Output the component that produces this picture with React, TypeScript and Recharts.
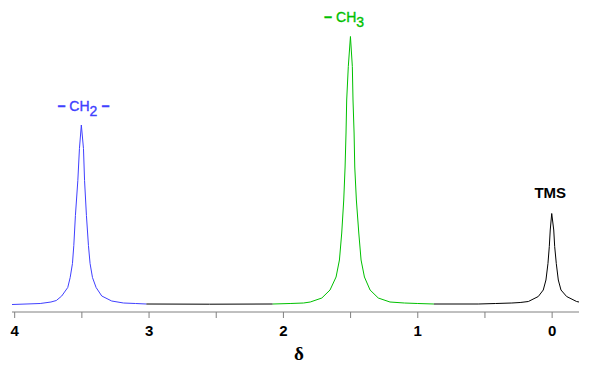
import { LineChart, Line, XAxis, YAxis, ReferenceDot } from 'recharts';

// chemical shift (ppm) / intensity
const ch2Peak = [
  { d: 4.02, i: 0 }, { d: 3.81, i: 1 }, { d: 3.73, i: 2.5 }, { d: 3.69, i: 4 },
  { d: 3.65, i: 8.5 }, { d: 3.605, i: 17 }, { d: 3.587, i: 27 }, { d: 3.57, i: 41 },
  { d: 3.56, i: 59 }, { d: 3.548, i: 89 }, { d: 3.53, i: 124 }, { d: 3.518, i: 156 },
  { d: 3.504, i: 179.5 }, { d: 3.488, i: 156 }, { d: 3.48, i: 124 }, { d: 3.466, i: 89 },
  { d: 3.451, i: 59 }, { d: 3.439, i: 41 }, { d: 3.421, i: 27 }, { d: 3.394, i: 17 },
  { d: 3.352, i: 8.5 }, { d: 3.278, i: 3.5 }, { d: 3.19, i: 1.5 }, { d: 3.1, i: 1 },
  { d: 3.02, i: 0.5 },
];

const ch3Peak = [
  { d: 2.08, i: 0.5 }, { d: 1.95, i: 1 }, { d: 1.85, i: 1.5 }, { d: 1.8, i: 2.5 },
  { d: 1.714, i: 6.5 }, { d: 1.653, i: 14.5 }, { d: 1.608, i: 27.5 }, { d: 1.583, i: 44.5 },
  { d: 1.566, i: 71.5 }, { d: 1.551, i: 104.5 }, { d: 1.541, i: 137.5 }, { d: 1.534, i: 171.5 },
  { d: 1.529, i: 204.5 }, { d: 1.517, i: 238 }, { d: 1.501, i: 268 }, { d: 1.487, i: 238 },
  { d: 1.482, i: 204.5 }, { d: 1.474, i: 171.5 }, { d: 1.469, i: 137.5 }, { d: 1.457, i: 104.5 },
  { d: 1.439, i: 71.5 }, { d: 1.422, i: 44.5 }, { d: 1.397, i: 27.5 }, { d: 1.355, i: 14.5 },
  { d: 1.294, i: 6.5 }, { d: 1.207, i: 2.5 }, { d: 1.1, i: 1.5 }, { d: 1.0, i: 1 },
  { d: 0.88, i: 0.5 },
];

const gapBase = [
  { d: 3.02, i: 0.5 }, { d: 2.55, i: 0.3 }, { d: 2.08, i: 0.5 },
];

const tmsPeak = [
  { d: 0.88, i: 0.5 }, { d: 0.55, i: 0.5 }, { d: 0.42, i: 1 }, { d: 0.3, i: 1.5 },
  { d: 0.238, i: 2 }, { d: 0.177, i: 3 }, { d: 0.103, i: 8 }, { d: 0.066, i: 14.5 },
  { d: 0.046, i: 24.5 }, { d: 0.031, i: 41 }, { d: 0.021, i: 58 }, { d: 0.014, i: 74.5 },
  { d: 0.003, i: 91 }, { d: -0.012, i: 74.5 }, { d: -0.019, i: 58 }, { d: -0.031, i: 41 },
  { d: -0.046, i: 24.5 }, { d: -0.066, i: 14.5 }, { d: -0.108, i: 8 }, { d: -0.182, i: 3 },
  { d: -0.2, i: 2.5 },
];

const xTicks = [4, 3.5, 3, 2.5, 2, 1.5, 1, 0.5, 0];

const BLUE = '#4040ff';
const GREEN = '#00c000';
const FONT = '"Liberation Sans", Arial, sans-serif';

const top = (arr: { d: number; i: number }[]) =>
  arr.reduce((a, b) => (b.i > a.i ? b : a));

const DeltaLabel = (props: any) => {
  const vb = props.viewBox || { x: 12, y: 312, width: 567, height: 58 };
  return (
    <text
      x={vb.x + vb.width / 2 + 3.4}
      y={vb.y + vb.height - 10}
      textAnchor="middle"
      fontFamily='"Liberation Serif", "DejaVu Serif", serif'
      fontWeight="bold"
      fontSize={19}
      fill="#000"
    >
      δ
    </text>
  );
};

const Dash = ({ dx = 0, dy = 0 }: { dx?: number; dy?: number }) => (
  <tspan dx={dx} dy={dy} fontWeight="bold">−</tspan>
);

export default function App() {
  const p1 = top(ch2Peak);
  const p2 = top(ch3Peak);
  const p3 = top(tmsPeak);

  return (
    <div style={{ position: 'absolute', left: 0, top: 0, background: '#fff' }}>
      <LineChart width={590} height={370} margin={{ top: 0, right: 11, left: 12, bottom: 0 }}>
        <XAxis
          type="number"
          dataKey="d"
          domain={[-0.2, 4.02]}
          reversed
          allowDataOverflow
          ticks={xTicks}
          interval={0}
          tickFormatter={(v: number) => (Number.isInteger(v) ? String(v) : '')}
          height={58}
          stroke="#808080"
          tickSize={6}
          tickMargin={7}
          tick={{ fill: '#000', fontSize: 15, fontWeight: 'bold', fontFamily: FONT }}
          label={{ content: DeltaLabel }}
        />
        <YAxis type="number" hide domain={[-7.5, 304.5]} allowDataOverflow />
        <Line data={ch2Peak} dataKey="i" type="linear" stroke={BLUE} strokeWidth={1} dot={false} isAnimationActive={false} />
        <Line data={gapBase} dataKey="i" type="linear" stroke="#000" strokeWidth={1} dot={false} isAnimationActive={false} />
        <Line data={ch3Peak} dataKey="i" type="linear" stroke={GREEN} strokeWidth={1} dot={false} isAnimationActive={false} />
        <Line data={tmsPeak} dataKey="i" type="linear" stroke="#000" strokeWidth={1} dot={false} isAnimationActive={false} />
        <ReferenceDot
          x={p1.d}
          y={p1.i}
          r={0}
          shape={(s: any) => (
            <text x={s.cx + 2} y={s.cy - 14.5} textAnchor="middle" fill={BLUE} stroke={BLUE} strokeWidth={0.35} fontSize={14} fontFamily={FONT}>
              <Dash />
              <tspan dx={4}>CH</tspan>
              <tspan dy={5}>2</tspan>
              <Dash dx={4} dy={-5} />
            </text>
          )}
        />
        <ReferenceDot
          x={p2.d}
          y={p2.i}
          r={0}
          shape={(s: any) => (
            <text x={s.cx - 6.5} y={s.cy - 14.7} textAnchor="middle" fill={GREEN} stroke={GREEN} strokeWidth={0.35} fontSize={14} fontFamily={FONT}>
              <Dash />
              <tspan dx={4}>CH</tspan>
              <tspan dy={5}>3</tspan>
            </text>
          )}
        />
        <ReferenceDot
          x={p3.d}
          y={p3.i}
          r={0}
          shape={(s: any) => (
            <text x={s.cx - 1.5} y={s.cy - 16} textAnchor="middle" fill="#000" fontSize={15} fontWeight="bold" fontFamily={FONT}>
              TMS
            </text>
          )}
        />
      </LineChart>
    </div>
  );
}
